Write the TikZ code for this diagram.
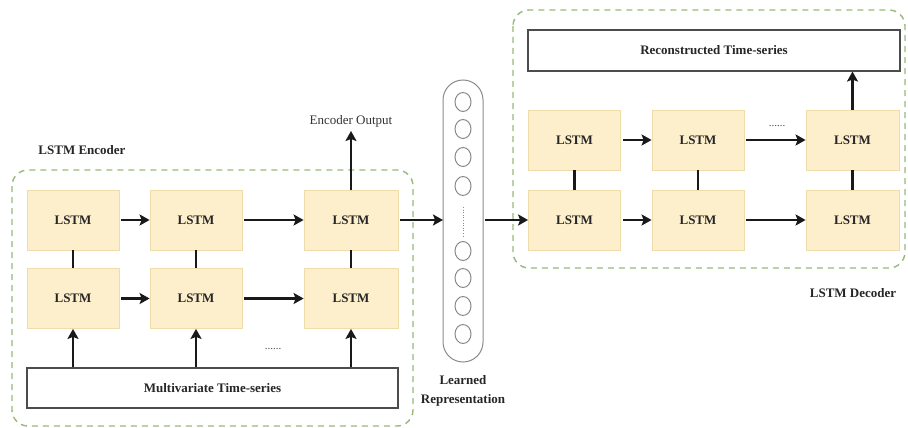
\documentclass[tikz,border=0pt]{standalone}
\usepackage{fontspec}
\setmainfont{Liberation Serif}
\usetikzlibrary{arrows.meta,shapes.geometric}
\definecolor{lstmfill}{HTML}{FDEECC}
\definecolor{lstmdraw}{HTML}{EEDCAA}
\definecolor{grpgreen}{HTML}{96B978}
\definecolor{repgray}{HTML}{8A8A8A}
\begin{document}
\begin{tikzpicture}[x=1pt,y=-1pt,
  lstm/.style={draw=lstmdraw,fill=lstmfill,line width=0.8pt,minimum width=92pt,minimum height=60pt,inner sep=0pt,font=\fontsize{13}{15}\selectfont\bfseries,text=black!85},
  series/.style={draw=black!70,fill=white,line width=1.1pt,minimum height=40pt,inner sep=0pt,font=\fontsize{13}{15}\selectfont\bfseries,text=black!85},
  group/.style={draw=grpgreen,dash pattern=on 6pt off 5pt,line width=1.4pt,rounded corners=16pt},
  flow/.style={-{Stealth[length=10pt,width=11pt,inset=2pt]},line width=2.8pt,black!90,shorten <=2pt},
  link/.style={line width=2.6pt,black!90},
  lbl/.style={font=\fontsize{13}{15}\selectfont\bfseries,text=black!85},
  olbl/.style={font=\fontsize{13}{15}\selectfont,text=black!80},
  unit/.style={draw=repgray,line width=1pt,ellipse,minimum width=16pt,minimum height=19pt,inner sep=0pt},
  dotslbl/.style={font=\fontsize{11}{11}\selectfont,text=black!70,inner sep=0pt}
]
\useasboundingbox (0,0) rectangle (908,428);
% group boxes
\draw[group] (12,170) rectangle (413,426);
\draw[group] (513,10) rectangle (905,268);
% encoder
\node[lstm] (e11) at (73,220) {LSTM};
\node[lstm] (e12) at (196,220) {LSTM};
\node[lstm,minimum width=94pt] (e13) at (351,220) {LSTM};
\node[lstm] (e21) at (73,298.5) {LSTM};
\node[lstm] (e22) at (196,298.5) {LSTM};
\node[lstm,minimum width=94pt] (e23) at (351,298.5) {LSTM};
\node[series,minimum width=371pt] (mv) at (212.5,388) {Multivariate Time-series};
\node[lbl] (enclbl) at (82,150) {LSTM Encoder};
\node[olbl] (encout) at (351,121) {Encoder Output};
\coordinate (encoutc) at (351,131);
\node[dotslbl] (edots) at (273,349) {......};
% learned representation
\draw[draw=repgray,line width=1pt,rounded corners=20pt] (443,80) rectangle (483,362);
\coordinate (repL) at (443,220);
\coordinate (repR) at (483,220);
\foreach \yy/\nm in {102/u1,129/u2,157/u3,186/u4,251/u5,278/u6,306/u7,334/u8}
  \node[unit] (\nm) at (463,\yy) {};
\draw[repgray,line width=1pt,dash pattern=on 1pt off 1.6pt] (463,207) -- (463,238);
\node[lbl] (replbl1) at (463,380) {Learned};
\node[lbl] (replbl2) at (463,400) {Representation};
% decoder
\node[series,minimum width=372pt,minimum height=41pt] (rec) at (714,50.5) {Reconstructed Time-series};
\node[lstm] (d11) at (574.5,140) {LSTM};
\node[lstm] (d12) at (698,140) {LSTM};
\node[lstm,minimum width=93pt] (d13) at (852.5,140) {LSTM};
\node[lstm] (d21) at (574.5,220) {LSTM};
\node[lstm] (d22) at (698,220) {LSTM};
\node[lstm,minimum width=93pt] (d23) at (852.5,220) {LSTM};
\node[lbl] (declbl) at (853,293) {LSTM Decoder};
\node[dotslbl] (ddots) at (777,126) {......};
% connectors encoder
\draw[flow] (e11) -- (e12);
\draw[flow] (e12) -- (e13);
\draw[flow] (e21) -- (e22);
\draw[flow] (e22) -- (e23);
\draw[link] (e11) -- (e21);
\draw[link] (e12) -- (e22);
\draw[link] (e13) -- (e23);
\draw[flow,shorten <=0pt] (mv.north -| e21) -- (e21);
\draw[flow,shorten <=0pt] (mv.north -| e22) -- (e22);
\draw[flow,shorten <=0pt] (mv.north -| e23) -- (e23);
\draw[flow,shorten <=0pt] (e13) -- (encoutc);
\draw[flow] (e13.east) -- (repL);
% decoder connectors
\draw[flow] (repR) -- (d21.west);
\draw[flow] (d11) -- (d12);
\draw[flow] (d12) -- (d13);
\draw[flow] (d21) -- (d22);
\draw[flow] (d22) -- (d23);
\draw[link] (d11) -- (d21);
\draw[link] (d12) -- (d22);
\draw[link] (d13) -- (d23);
\draw[flow,shorten <=0pt] (d13) -- (d13 |- rec.south);
\end{tikzpicture}
\end{document}
